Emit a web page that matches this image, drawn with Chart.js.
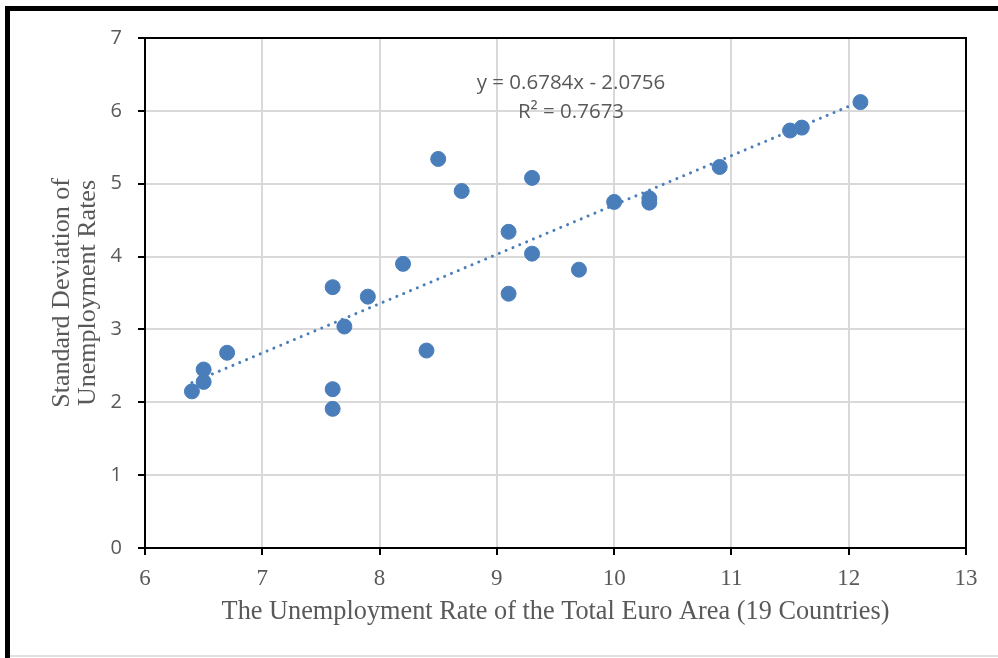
<!DOCTYPE html>
<html>
<head>
<meta charset="utf-8">
<script src="https://cdn.jsdelivr.net/npm/chart.js@4.4.1/dist/chart.umd.min.js"></script>
<style>
  html, body { margin: 0; padding: 0; background: #fff; }
  #wrap { position: relative; width: 998px; height: 658px; overflow: hidden; }
  #c { position: absolute; left: 0; top: 0; }
  .bt { position: absolute; left: 5px; top: 6px; width: 993px; height: 5px; background: #000; }
  .bl { position: absolute; left: 5px; top: 6px; width: 5px; height: 652px; background: #000; }
  .bb { position: absolute; left: 10px; top: 655px; width: 988px; height: 2px; background: #e0e0e0; }
</style>
</head>
<body>
<div id="wrap">
  <canvas id="c" width="998" height="658"></canvas>
  <div class="bt"></div>
  <div class="bl"></div>
  <div class="bb"></div>
</div>
<script>
// Unemployment rate of the total euro area (x) and standard deviation (y)
const euroRate = [6.4, 6.5, 6.5, 6.7, 7.6, 7.6, 7.6, 7.7, 7.9, 8.2, 8.4, 8.5, 8.7, 9.1, 9.1, 9.3, 9.3, 9.7, 10.0, 10.3, 10.3, 10.9, 11.5, 11.6, 12.1];
const stdDev   = [2.15, 2.45, 2.28, 2.68, 3.58, 2.18, 1.91, 3.04, 3.45, 3.90, 2.71, 5.34, 4.90, 4.34, 3.49, 5.08, 4.04, 3.82, 4.75, 4.80, 4.74, 5.23, 5.73, 5.77, 6.12];
// Linear trendline endpoints (y = 0.6784x - 2.0756)
const trendX = [6.4, 12.1];
const trendY = [2.27, 6.13];
const xTicks = [6, 7, 8, 9, 10, 11, 12, 13];
const yTicks = [0, 1, 2, 3, 4, 5, 6, 7];
const eqLines = ['y = 0.6784x - 2.0756', 'R² = 0.7673'];
const xTitle = 'The Unemployment Rate of the Total Euro Area (19 Countries)';
const yTitle = ['Standard Deviation of', 'Unemployment Rates'];

const blue = '#4a7ebb';
const grey = '#595959';

const scatterData = euroRate.map((x, i) => ({ x: x, y: stdDev[i] }));
const trendData = trendX.map((x, i) => ({ x: x, y: trendY[i] }));

const framePlugin = {
  id: 'frame',
  afterDraw(chart) {
    const { ctx, chartArea: a } = chart;
    ctx.save();
    ctx.strokeStyle = '#000';
    ctx.lineWidth = 2;
    ctx.strokeRect(a.left, a.top, a.right - a.left, a.bottom - a.top);
    ctx.fillStyle = grey;
    ctx.font = '20.5px "Open Sans", "Liberation Sans", sans-serif';
    ctx.textAlign = 'center';
    ctx.textBaseline = 'middle';
    const cx = a.left + 426;
    ctx.fillText(eqLines[0], cx, a.top + 45);
    ctx.fillText(eqLines[1], cx, a.top + 74);
    ctx.restore();
  }
};

new Chart(document.getElementById('c'), {
  type: 'scatter',
  data: {
    datasets: [
      {
        type: 'line',
        data: trendData,
        borderColor: blue,
        borderWidth: 3,
        borderDash: [0.01, 7.4],
        borderCapStyle: 'round',
        pointRadius: 0,
        fill: false,
        order: 2
      },
      {
        data: scatterData,
        backgroundColor: blue,
        borderColor: blue,
        borderWidth: 1,
        pointRadius: 7.5,
        order: 1
      }
    ]
  },
  plugins: [framePlugin],
  options: {
    responsive: false,
    animation: false,
    events: [],
    layout: { padding: { left: 0, top: 38, right: 32, bottom: 0 } },
    plugins: { legend: { display: false }, tooltip: { enabled: false }, title: { display: false } },
    scales: {
      x: {
        type: 'linear',
        min: 6, max: 13,
        afterBuildTicks(s) { s.ticks = xTicks.map(v => ({ value: v })); },
        afterFit(s) { s.height = 110; },
        grid: { color: '#d9d9d9', lineWidth: 2, tickColor: '#000', tickLength: 7, tickWidth: 2 },
        border: { color: '#000', width: 2 },
        ticks: {
          color: grey,
          padding: 10,
          font: { family: '"Liberation Serif", "Times New Roman", serif', size: 23 },
          maxRotation: 0
        },
        title: {
          display: true,
          text: xTitle,
          color: grey,
          font: { family: '"Liberation Serif", "Times New Roman", serif', size: 26.3 },
          padding: { top: 0, bottom: 30 }
        }
      },
      y: {
        type: 'linear',
        min: 0, max: 7,
        afterBuildTicks(s) { s.ticks = yTicks.map(v => ({ value: v })); },
        afterFit(s) { s.width = 145; },
        grid: { color: '#d9d9d9', lineWidth: 2, tickColor: '#000', tickLength: 7, tickWidth: 2 },
        border: { color: '#000', width: 2 },
        ticks: {
          color: grey,
          padding: 16,
          font: { family: '"Open Sans", "Liberation Sans", sans-serif', size: 20 }
        },
        title: {
          display: true,
          text: yTitle,
          color: grey,
          font: { family: '"Liberation Serif", "Times New Roman", serif', size: 26, lineHeight: 1.0 },
          padding: { top: 49, bottom: 0 }
        }
      }
    }
  }
});
</script>
</body>
</html>
